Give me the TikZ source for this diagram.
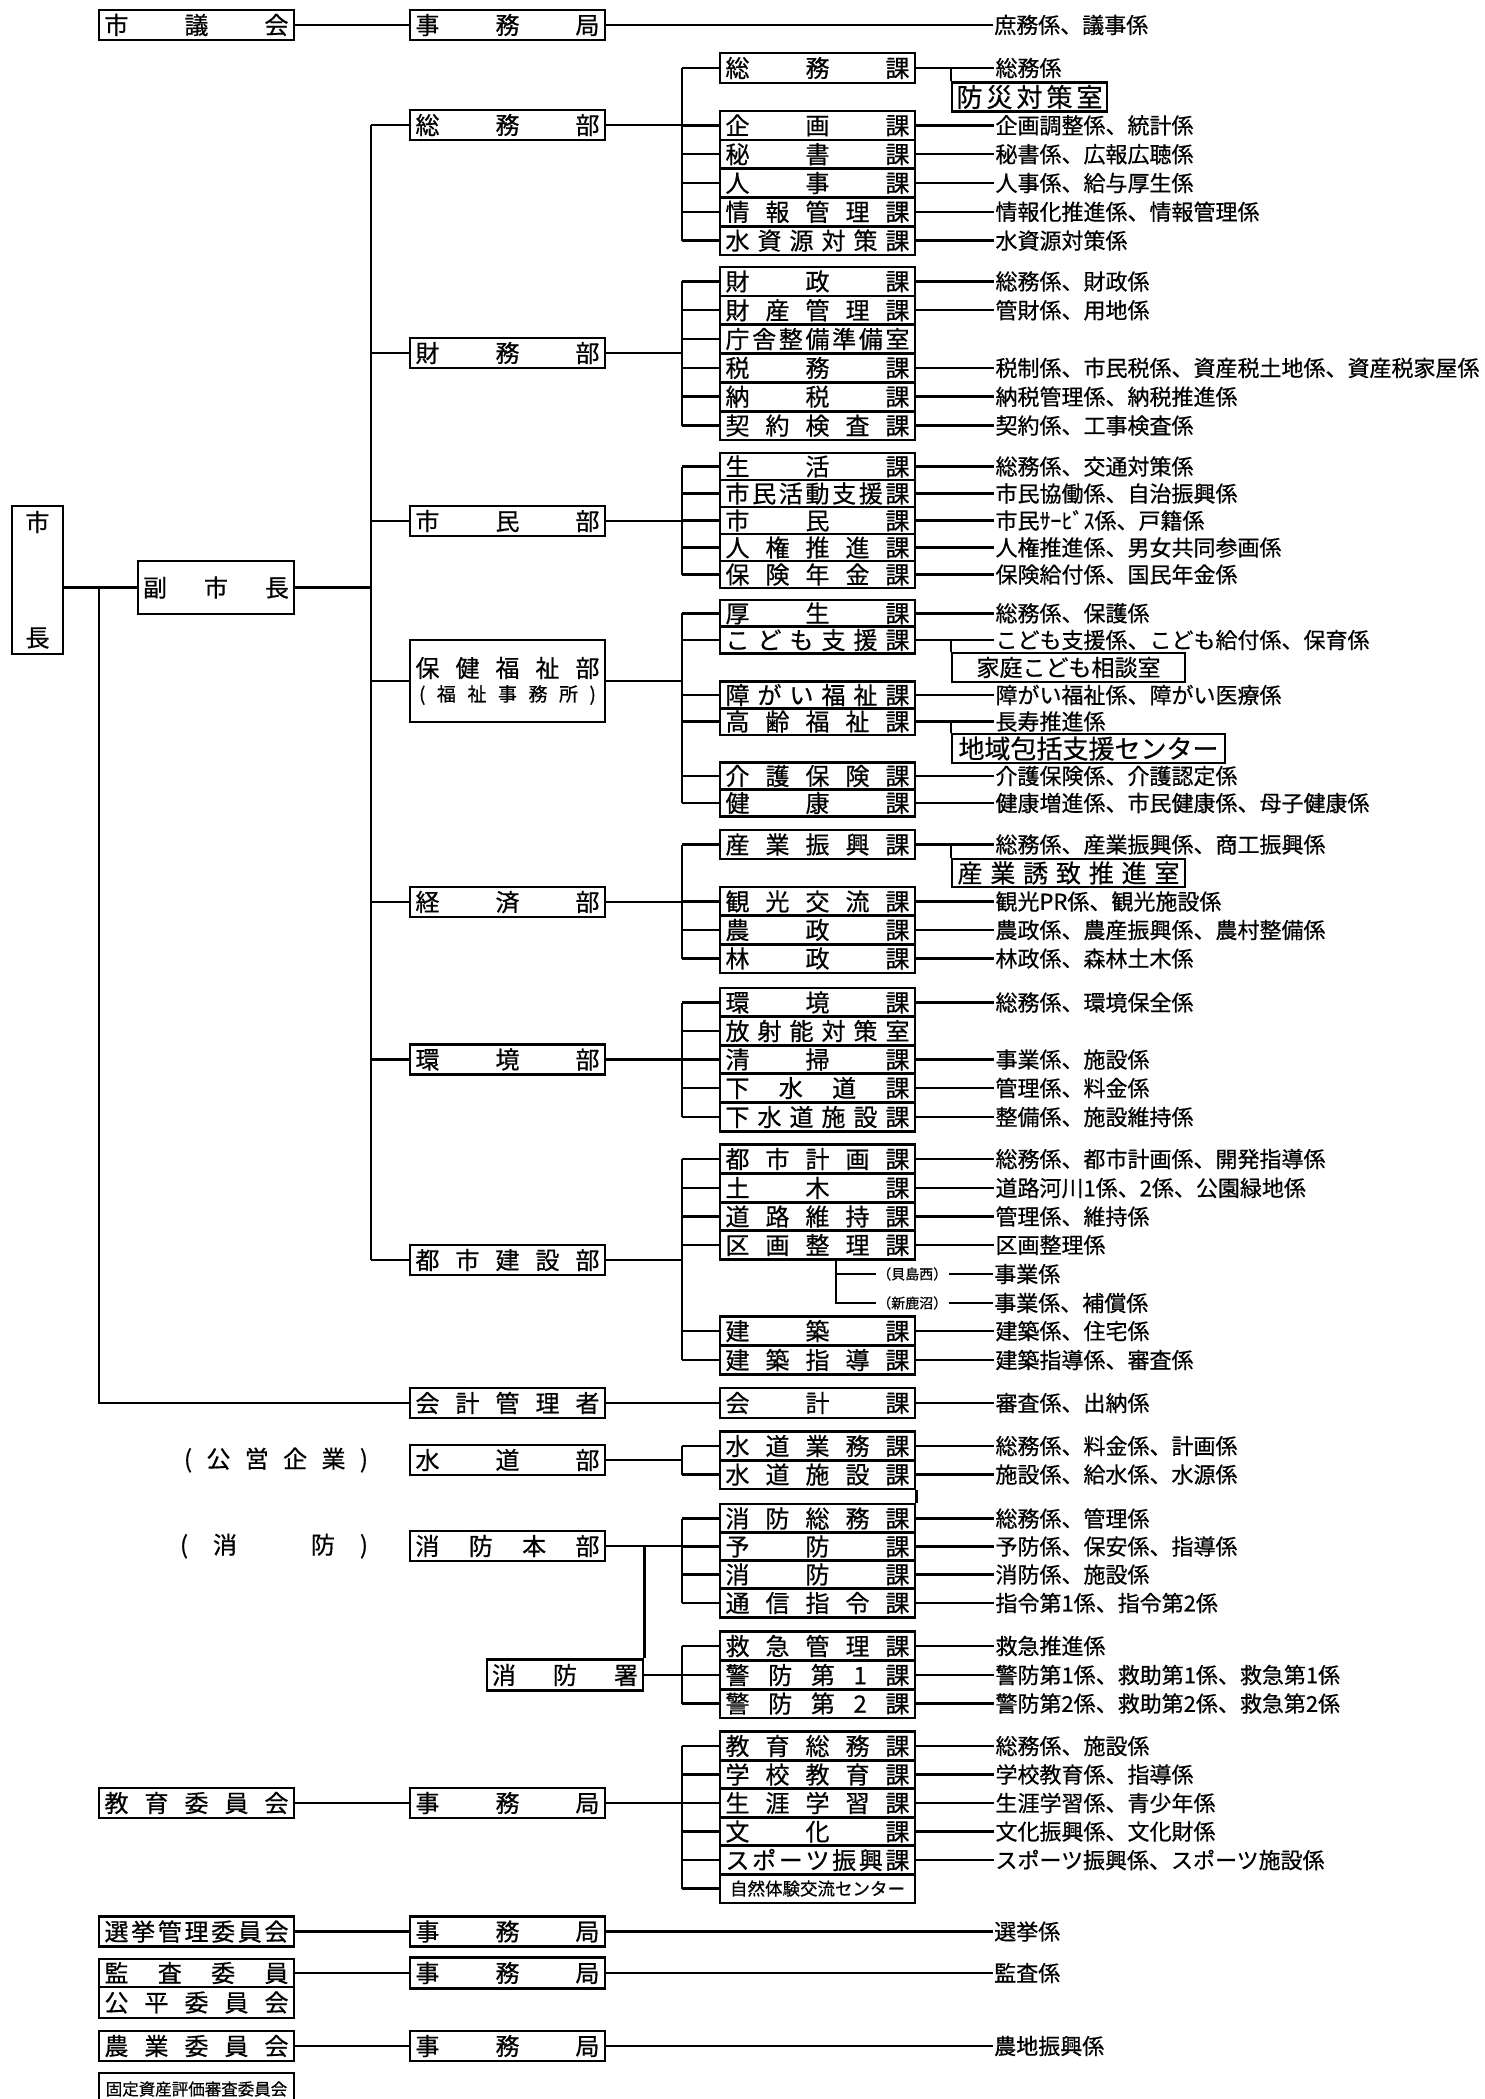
\documentclass[tikz,border=0pt]{standalone}
\usepackage{fontspec}
\setmainfont{Noto Sans CJK JP}[FakeBold=0.6]
\usetikzlibrary{positioning}

% Spread the characters of a label over a fixed width
\def\kintouA#1{\ifx\relax#1\else#1\expandafter\kintouB\fi}
\def\kintouB#1{\ifx\relax#1\else\hfill#1\expandafter\kintouB\fi}
\newcommand{\kintou}[2][184pt]{\makebox[#1][s]{\kintouA#2\relax}}

\tikzset{
  bu/.style={draw, line width=2.5pt, inner sep=0pt, minimum width=195pt, minimum height=30pt, font=\fontsize{24}{24}\selectfont},
  ka/.style={bu, minimum height=28.7pt},
  shitsu/.style={bu, minimum height=29pt},
  kakari/.style={inner sep=0pt, font=\fontsize{22}{22}\selectfont},
  moji/.style={inner sep=0pt, font=\fontsize{24}{24}\selectfont},
}

\begin{document}
\begin{tikzpicture}[x=1pt, y=-1pt, line width=2.5pt, node distance=78pt]
    \useasboundingbox (0,0) rectangle (1484,2099);

    % Define points for the vertical buses
    \coordinate (mbus)  at (99,0);
    \coordinate (bbus)  at (371,0);
    \coordinate (kbus)  at (682,0);
    \coordinate (kksub) at (836,0);

    % 市長 and 副市長
    \node[bu, minimum width=51pt, minimum height=148pt] (shicho) at (37.5,580) {};
    \node[moji] (shicho-a) at (37.5,522) {市};
    \node[moji] (shicho-b) at (37.5,638) {長};
    \node[bu, minimum width=156pt, minimum height=53pt] (fuku) at (216,587.5) {\kintou[146pt]{副市長}};

    % 市議会
    \node[bu] (gikai)  at (196.5,25) {\kintou{市議会}};
    \node[bu] (gikaij) at (507.5,25) {\kintou{事務局}};
    \node[kakari, anchor=west] (gikaik) at (993,25) {庶務係、議事係};

    % Departments
    \node[bu] (soumubu)  at (507.5,125)  {\kintou{総務部}};
    \node[bu] (zaimubu)  at (507.5,353)  {\kintou{財務部}};
    \node[bu] (shiminbu) at (507.5,521)  {\kintou{市民部}};
    \node[bu, minimum height=82pt] (hokenbu) at (507.5,681) {};
    \node[moji] (hokenbu-a) at (507.5,668) {\kintou{保健福祉部}};
    \node[moji, font=\fontsize{19}{19}\selectfont] (hokenbu-b) at (507.5,695) {\kintou[177pt]{(福祉事務所)}};
    \node[bu] (keizaibu) at (507.5,902)  {\kintou{経済部}};
    \node[bu] (kankyobu) at (507.5,1059.5) {\kintou{環境部}};
    \node[bu] (toshibu)  at (507.5,1260) {\kintou{都市建設部}};
    \node[bu] (kaikeikanri) at (507.5,1403) {\kintou{会計管理者}};
    \node[bu] (suidobu)  at (507.5,1460) {\kintou{水道部}};
    \node[bu] (shoboh)   at (507.5,1546) {\kintou{消防本部}};
    \node[bu, minimum width=156pt, minimum height=31pt] (shobosho) at (565,1675) {\kintou[146pt]{消防署}};
    \node[moji] (koei)  at (276,1460) {\kintou[184pt]{(公営企業)}};
    \node[moji] (shobo) at (274,1546) {\kintou[188pt]{(消　防)}};

    % 総務部
    \node[ka, minimum height=30pt] (soumuka) at (817.5,68) {\kintou{総務課}};
    \node[shitsu, minimum width=155pt, font=\fontsize{26}{26}\selectfont] (bousai) at (1029.5,97) {\kintou[146pt]{防災対策室}};
    \node[ka] (kikaku)     at (817.5,125.4) {\kintou{企画課}};
    \node[ka] (hisho)      at (817.5,154.2) {\kintou{秘書課}};
    \node[ka] (jinji)      at (817.5,183)   {\kintou{人事課}};
    \node[ka] (joho)       at (817.5,211.8) {\kintou{情報管理課}};
    \node[ka] (mizushigen) at (817.5,240.6) {\kintou{水資源対策課}};
    \node[kakari, right=of soumuka]    (soumuka-k)    {総務係};
    \node[kakari, right=of kikaku]     (kikaku-k)     {企画調整係、統計係};
    \node[kakari, right=of hisho]      (hisho-k)      {秘書係、広報広聴係};
    \node[kakari, right=of jinji]      (jinji-k)      {人事係、給与厚生係};
    \node[kakari, right=of joho]       (joho-k)       {情報化推進係、情報管理係};
    \node[kakari, right=of mizushigen] (mizushigen-k) {水資源対策係};

    % 財務部
    \node[ka] (zaisei)  at (817.5,281.4) {\kintou{財政課}};
    \node[ka] (zaisan)  at (817.5,310.2) {\kintou{財産管理課}};
    \node[ka] (chosha)  at (817.5,339)   {\kintou{庁舎整備準備室}};
    \node[ka] (zeimu)   at (817.5,367.9) {\kintou{税務課}};
    \node[ka] (nozei)   at (817.5,396.7) {\kintou{納税課}};
    \node[ka] (keiyaku) at (817.5,425.6) {\kintou{契約検査課}};
    \node[kakari, right=of zaisei]  (zaisei-k)  {総務係、財政係};
    \node[kakari, right=of zaisan]  (zaisan-k)  {管財係、用地係};
    \node[kakari, right=of zeimu]   (zeimu-k)   {税制係、市民税係、資産税土地係、資産税家屋係};
    \node[kakari, right=of nozei]   (nozei-k)   {納税管理係、納税推進係};
    \node[kakari, right=of keiyaku] (keiyaku-k) {契約係、工事検査係};

    % 市民部
    \node[ka, minimum height=27pt] (seikatsu) at (817.5,466.5) {\kintou{生活課}};
    \node[ka, minimum height=27pt] (katsudo)  at (817.5,493.5) {\kintou{市民活動支援課}};
    \node[ka, minimum height=27pt] (shimin)   at (817.5,520.5) {\kintou{市民課}};
    \node[ka, minimum height=27pt] (jinken)   at (817.5,547.5) {\kintou{人権推進課}};
    \node[ka, minimum height=27pt] (hoken)    at (817.5,574.5) {\kintou{保険年金課}};
    \node[kakari, right=of seikatsu] (seikatsu-k) {総務係、交通対策係};
    \node[kakari, right=of katsudo]  (katsudo-k)  {市民協働係、自治振興係};
    \node[kakari, right=of shimin]   (shimin-k)   {市民ｻｰﾋﾞｽ係、戸籍係};
    \node[kakari, right=of jinken]   (jinken-k)   {人権推進係、男女共同参画係};
    \node[kakari, right=of hoken]    (hoken-k)    {保険給付係、国民年金係};

    % 保健福祉部
    \node[ka, minimum height=27pt] (kosei)  at (817.5,613.3) {\kintou{厚生課}};
    \node[ka, minimum height=27pt] (kodomo) at (817.5,640)   {\kintou{こども支援課}};
    \node[shitsu, minimum width=233pt, font=\fontsize{23}{23}\selectfont] (katei) at (1068.5,667.5) {家庭こども相談室};
    \node[ka, minimum height=27pt] (shogai) at (817.5,695)   {\kintou{障がい福祉課}};
    \node[ka, minimum height=27pt] (korei)  at (817.5,721.5) {\kintou{高齢福祉課}};
    \node[shitsu, minimum width=273pt, font=\fontsize{26}{26}\selectfont] (chiiki) at (1088.5,748.5) {地域包括支援センター};
    \node[ka, minimum height=27pt] (kaigo)  at (817.5,776)   {\kintou{介護保険課}};
    \node[ka, minimum height=27pt] (kenko)  at (817.5,803)   {\kintou{健康課}};
    \node[kakari, right=of kosei]  (kosei-k)  {総務係、保護係};
    \node[kakari, right=of kodomo] (kodomo-k) {こども支援係、こども給付係、保育係};
    \node[kakari, right=of shogai] (shogai-k) {障がい福祉係、障がい医療係};
    \node[kakari, right=of korei]  (korei-k)  {長寿推進係};
    \node[kakari, right=of kaigo]  (kaigo-k)  {介護保険係、介護認定係};
    \node[kakari, right=of kenko]  (kenko-k)  {健康増進係、市民健康係、母子健康係};

    % 経済部
    \node[ka] (sangyo) at (817.5,844.5) {\kintou{産業振興課}};
    \node[shitsu, minimum width=233pt, minimum height=28pt, font=\fontsize{25}{25}\selectfont] (yuchi) at (1068.5,873) {\kintou[222pt]{産業誘致推進室}};
    \node[ka] (kanko)  at (817.5,901.5) {\kintou{観光交流課}};
    \node[ka] (nosei)  at (817.5,930)   {\kintou{農政課}};
    \node[ka] (rinsei) at (817.5,958.5) {\kintou{林政課}};
    \node[kakari, right=of sangyo] (sangyo-k) {総務係、産業振興係、商工振興係};
    \node[kakari, right=of kanko]  (kanko-k)  {観光PR係、観光施設係};
    \node[kakari, right=of nosei]  (nosei-k)  {農政係、農産振興係、農村整備係};
    \node[kakari, right=of rinsei] (rinsei-k) {林政係、森林土木係};

    % 環境部
    \node[ka] (kankyo)   at (817.5,1002.5) {\kintou{環境課}};
    \node[ka] (hosha)    at (817.5,1031)   {\kintou{放射能対策室}};
    \node[ka] (seiso)    at (817.5,1059.5) {\kintou{清掃課}};
    \node[ka] (gesui)    at (817.5,1088)   {\kintou{下水道課}};
    \node[ka] (gesuishi) at (817.5,1117)   {\kintou{下水道施設課}};
    \node[kakari, right=of kankyo]   (kankyo-k)   {総務係、環境保全係};
    \node[kakari, right=of seiso]    (seiso-k)    {事業係、施設係};
    \node[kakari, right=of gesui]    (gesui-k)    {管理係、料金係};
    \node[kakari, right=of gesuishi] (gesuishi-k) {整備係、施設維持係};

    % 都市建設部
    \node[ka] (toshikei) at (817.5,1159)   {\kintou{都市計画課}};
    \node[ka] (doboku)   at (817.5,1188)   {\kintou{土木課}};
    \node[ka] (doro)     at (817.5,1216.5) {\kintou{道路維持課}};
    \node[ka] (kukaku)   at (817.5,1245)   {\kintou{区画整理課}};
    \node[ka] (kenchiku) at (817.5,1331)   {\kintou{建築課}};
    \node[ka] (kenshido) at (817.5,1360)   {\kintou{建築指導課}};
    \node[kakari, right=of toshikei] (toshikei-k) {総務係、都市計画係、開発指導係};
    \node[kakari, right=of doboku]   (doboku-k)   {道路河川1係、2係、公園緑地係};
    \node[kakari, right=of doro]     (doro-k)     {管理係、維持係};
    \node[kakari, right=of kukaku]   (kukaku-k)   {区画整理係};
    \node[kakari, right=of kenchiku] (kenchiku-k) {建築係、住宅係};
    \node[kakari, right=of kenshido] (kenshido-k) {建築指導係、審査係};
    \node[kakari, anchor=west, font=\fontsize{14}{14}\selectfont] (kaijima) at (876,1274) {（貝島西）};
    \node[kakari, anchor=west, font=\fontsize{14}{14}\selectfont] (shinka)  at (876,1303) {（新鹿沼）};
    \node[kakari, anchor=west] (kaijima-k) at (993,1274) {事業係};
    \node[kakari, anchor=west] (shinka-k)  at (993,1303) {事業係、補償係};

    % 会計, 水道, 消防
    \node[ka, minimum height=30pt] (kaikeika) at (817.5,1403) {\kintou{会計課}};
    \node[ka] (suigyo)  at (817.5,1446)   {\kintou{水道業務課}};
    \node[ka] (suishi)  at (817.5,1474.5) {\kintou{水道施設課}};
    \node[ka] (shosomu) at (817.5,1518.5) {\kintou{消防総務課}};
    \node[ka] (yobo)    at (817.5,1546.5) {\kintou{予防課}};
    \node[ka] (shoboka) at (817.5,1574.5) {\kintou{消防課}};
    \node[ka] (tsushin) at (817.5,1603)   {\kintou{通信指令課}};
    \node[ka] (kyukyu)  at (817.5,1646)   {\kintou{救急管理課}};
    \node[ka] (keibo1)  at (817.5,1675)   {\kintou{警防第1課}};
    \node[ka] (keibo2)  at (817.5,1703.5) {\kintou{警防第2課}};
    \node[kakari, right=of kaikeika] (kaikeika-k) {審査係、出納係};
    \node[kakari, right=of suigyo]   (suigyo-k)   {総務係、料金係、計画係};
    \node[kakari, right=of suishi]   (suishi-k)   {施設係、給水係、水源係};
    \node[kakari, right=of shosomu]  (shosomu-k)  {総務係、管理係};
    \node[kakari, right=of yobo]     (yobo-k)     {予防係、保安係、指導係};
    \node[kakari, right=of shoboka]  (shoboka-k)  {消防係、施設係};
    \node[kakari, right=of tsushin]  (tsushin-k)  {指令第1係、指令第2係};
    \node[kakari, right=of kyukyu]   (kyukyu-k)   {救急推進係};
    \node[kakari, right=of keibo1]   (keibo1-k)   {警防第1係、救助第1係、救急第1係};
    \node[kakari, right=of keibo2]   (keibo2-k)   {警防第2係、救助第2係、救急第2係};

    % 教育委員会
    \node[bu] (kyoiku)  at (196.5,1803) {\kintou{教育委員会}};
    \node[bu] (kyoikuj) at (507.5,1803) {\kintou{事務局}};
    \node[ka] (kyosomu) at (817.5,1746)   {\kintou{教育総務課}};
    \node[ka] (gakko)   at (817.5,1774.5) {\kintou{学校教育課}};
    \node[ka] (shogaku) at (817.5,1803)   {\kintou{生涯学習課}};
    \node[ka] (bunka)   at (817.5,1831.5) {\kintou{文化課}};
    \node[ka] (sports)  at (817.5,1860)   {\kintou{スポーツ振興課}};
    \node[ka, font=\fontsize{17.5}{17.5}\selectfont] (shizen) at (817.5,1888.5) {自然体験交流センター};
    \node[kakari, right=of kyosomu] (kyosomu-k) {総務係、施設係};
    \node[kakari, right=of gakko]   (gakko-k)   {学校教育係、指導係};
    \node[kakari, right=of shogaku] (shogaku-k) {生涯学習係、青少年係};
    \node[kakari, right=of bunka]   (bunka-k)   {文化振興係、文化財係};
    \node[kakari, right=of sports]  (sports-k)  {スポーツ振興係、スポーツ施設係};

    % Other committees
    \node[bu] (senkyo)  at (196.5,1931.5) {\kintou{選挙管理委員会}};
    \node[bu] (senkyoj) at (507.5,1931.5) {\kintou{事務局}};
    \node[kakari, anchor=west] (senkyo-k) at (993,1931.5) {選挙係};
    \node[bu, minimum height=28pt] (kansa) at (196.5,1973) {\kintou{監査委員}};
    \node[bu, minimum height=31pt] (kohei) at (196.5,2002.5) {\kintou{公平委員会}};
    \node[bu, minimum height=31pt] (kansaj) at (507.5,1973) {\kintou{事務局}};
    \node[kakari, anchor=west] (kansa-k) at (993,1973) {監査係};
    \node[bu] (nogyo)  at (196.5,2046) {\kintou{農業委員会}};
    \node[bu] (nogyoj) at (507.5,2046) {\kintou{事務局}};
    \node[kakari, anchor=west] (nogyo-k) at (993,2046) {農地振興係};
    \node[bu, minimum height=32pt, font=\fontsize{16.5}{16.5}\selectfont] (kotei) at (196.5,2089) {固定資産評価審査委員会};

    % Draw the lines from 市長 down
    \draw (shicho.east |- fuku) -- (fuku);
    \draw (mbus |- fuku) |- (kaikeikanri);
    \draw (fuku) -- (bbus |- fuku);
    \draw (bbus |- soumubu) -- (bbus |- toshibu);
    \draw (bbus |- soumubu) -- (soumubu) (bbus |- zaimubu) -- (zaimubu)
          (bbus |- shiminbu) -- (shiminbu) (bbus |- hokenbu) -- (hokenbu)
          (bbus |- keizaibu) -- (keizaibu) (bbus |- kankyobu) -- (kankyobu)
          (bbus |- toshibu) -- (toshibu);

    % Draw the committee lines
    \draw (gikai) -- (gikaij) -- (gikaik);
    \draw (senkyo) -- (senkyoj) -- (senkyo-k);
    \draw (kansa) -- (kansaj) -- (kansa-k);
    \draw (nogyo) -- (nogyoj) -- (nogyo-k);
    \draw (kyoiku) -- (kyoikuj);

    % Draw the buses from each department to its sections
    \draw (soumubu) -- (kbus |- soumubu);
    \draw (kbus |- soumuka) -- (kbus |- mizushigen);
    \draw (kbus |- soumuka) -- (soumuka) (kbus |- kikaku) -- (kikaku)
          (kbus |- hisho) -- (hisho) (kbus |- jinji) -- (jinji)
          (kbus |- joho) -- (joho) (kbus |- mizushigen) -- (mizushigen);

    \draw (zaimubu) -- (kbus |- zaimubu);
    \draw (kbus |- zaisei) -- (kbus |- keiyaku);
    \draw (kbus |- zaisei) -- (zaisei) (kbus |- zaisan) -- (zaisan)
          (kbus |- chosha) -- (chosha) (kbus |- zeimu) -- (zeimu)
          (kbus |- nozei) -- (nozei) (kbus |- keiyaku) -- (keiyaku);

    \draw (shiminbu) -- (kbus |- shiminbu);
    \draw (kbus |- seikatsu) -- (kbus |- hoken);
    \draw (kbus |- seikatsu) -- (seikatsu) (kbus |- katsudo) -- (katsudo)
          (kbus |- shimin) -- (shimin) (kbus |- jinken) -- (jinken)
          (kbus |- hoken) -- (hoken);

    \draw (hokenbu) -- (kbus |- hokenbu);
    \draw (kbus |- kosei) -- (kbus |- kenko);
    \draw (kbus |- kosei) -- (kosei) (kbus |- kodomo) -- (kodomo)
          (kbus |- shogai) -- (shogai) (kbus |- korei) -- (korei)
          (kbus |- kaigo) -- (kaigo) (kbus |- kenko) -- (kenko);

    \draw (keizaibu) -- (kbus |- keizaibu);
    \draw (kbus |- sangyo) -- (kbus |- rinsei);
    \draw (kbus |- sangyo) -- (sangyo) (kbus |- kanko) -- (kanko)
          (kbus |- nosei) -- (nosei) (kbus |- rinsei) -- (rinsei);

    \draw (kankyobu) -- (kbus |- kankyobu);
    \draw (kbus |- kankyo) -- (kbus |- gesuishi);
    \draw (kbus |- kankyo) -- (kankyo) (kbus |- hosha) -- (hosha)
          (kbus |- seiso) -- (seiso) (kbus |- gesui) -- (gesui)
          (kbus |- gesuishi) -- (gesuishi);

    \draw (toshibu) -- (kbus |- toshibu);
    \draw (kbus |- toshikei) -- (kbus |- kenshido);
    \draw (kbus |- toshikei) -- (toshikei) (kbus |- doboku) -- (doboku)
          (kbus |- doro) -- (doro) (kbus |- kukaku) -- (kukaku)
          (kbus |- kenchiku) -- (kenchiku) (kbus |- kenshido) -- (kenshido);
    \draw (kksub |- kukaku.south) |- (shinka);
    \draw (kksub |- kaijima) -- (kaijima);
    \draw (kaijima) -- (kaijima-k);
    \draw (shinka) -- (shinka-k);

    \draw (kaikeikanri) -- (kaikeika);

    \draw (suidobu) -- (kbus |- suidobu);
    \draw (kbus |- suigyo) -- (kbus |- suishi);
    \draw (kbus |- suigyo) -- (suigyo) (kbus |- suishi) -- (suishi);
    \draw (suishi.south east) -- (shosomu.north east);

    \draw (shoboh) -- (kbus |- shoboh);
    \draw (kbus |- shosomu) -- (kbus |- tsushin);
    \draw (kbus |- shosomu) -- (shosomu) (kbus |- yobo) -- (yobo)
          (kbus |- shoboka) -- (shoboka) (kbus |- tsushin) -- (tsushin);
    \draw (shobosho.north east |- shoboh) -- (shobosho.north east);
    \draw (shobosho) -- (kbus |- shobosho);
    \draw (kbus |- kyukyu) -- (kbus |- keibo2);
    \draw (kbus |- kyukyu) -- (kyukyu) (kbus |- keibo1) -- (keibo1)
          (kbus |- keibo2) -- (keibo2);

    \draw (kyoikuj) -- (kbus |- kyoikuj);
    \draw (kbus |- kyosomu) -- (kbus |- shizen);
    \draw (kbus |- kyosomu) -- (kyosomu) (kbus |- gakko) -- (gakko)
          (kbus |- shogaku) -- (shogaku) (kbus |- bunka) -- (bunka)
          (kbus |- sports) -- (sports) (kbus |- shizen) -- (shizen);

    % Side rooms hanging off a section line
    \draw (bousai.north west) |- (soumuka);
    \draw (katei.north west) |- (kodomo);
    \draw (chiiki.north west) |- (korei);
    \draw (yuchi.north west) |- (sangyo);

    % Draw the lines from the sections to their 係
    \draw (soumuka) -- (soumuka-k) (kikaku) -- (kikaku-k) (hisho) -- (hisho-k)
          (jinji) -- (jinji-k) (joho) -- (joho-k) (mizushigen) -- (mizushigen-k);
    \draw (zaisei) -- (zaisei-k) (zaisan) -- (zaisan-k) (zeimu) -- (zeimu-k)
          (nozei) -- (nozei-k) (keiyaku) -- (keiyaku-k);
    \draw (seikatsu) -- (seikatsu-k) (katsudo) -- (katsudo-k) (shimin) -- (shimin-k)
          (jinken) -- (jinken-k) (hoken) -- (hoken-k);
    \draw (kosei) -- (kosei-k) (kodomo) -- (kodomo-k) (shogai) -- (shogai-k)
          (korei) -- (korei-k) (kaigo) -- (kaigo-k) (kenko) -- (kenko-k);
    \draw (sangyo) -- (sangyo-k) (kanko) -- (kanko-k) (nosei) -- (nosei-k)
          (rinsei) -- (rinsei-k);
    \draw (kankyo) -- (kankyo-k) (seiso) -- (seiso-k) (gesui) -- (gesui-k)
          (gesuishi) -- (gesuishi-k);
    \draw (toshikei) -- (toshikei-k) (doboku) -- (doboku-k) (doro) -- (doro-k)
          (kukaku) -- (kukaku-k) (kenchiku) -- (kenchiku-k) (kenshido) -- (kenshido-k);
    \draw (kaikeika) -- (kaikeika-k) (suigyo) -- (suigyo-k) (suishi) -- (suishi-k);
    \draw (shosomu) -- (shosomu-k) (yobo) -- (yobo-k) (shoboka) -- (shoboka-k)
          (tsushin) -- (tsushin-k) (kyukyu) -- (kyukyu-k) (keibo1) -- (keibo1-k)
          (keibo2) -- (keibo2-k);
    \draw (kyosomu) -- (kyosomu-k) (gakko) -- (gakko-k) (shogaku) -- (shogaku-k)
          (bunka) -- (bunka-k) (sports) -- (sports-k);

\end{tikzpicture}
\end{document}
